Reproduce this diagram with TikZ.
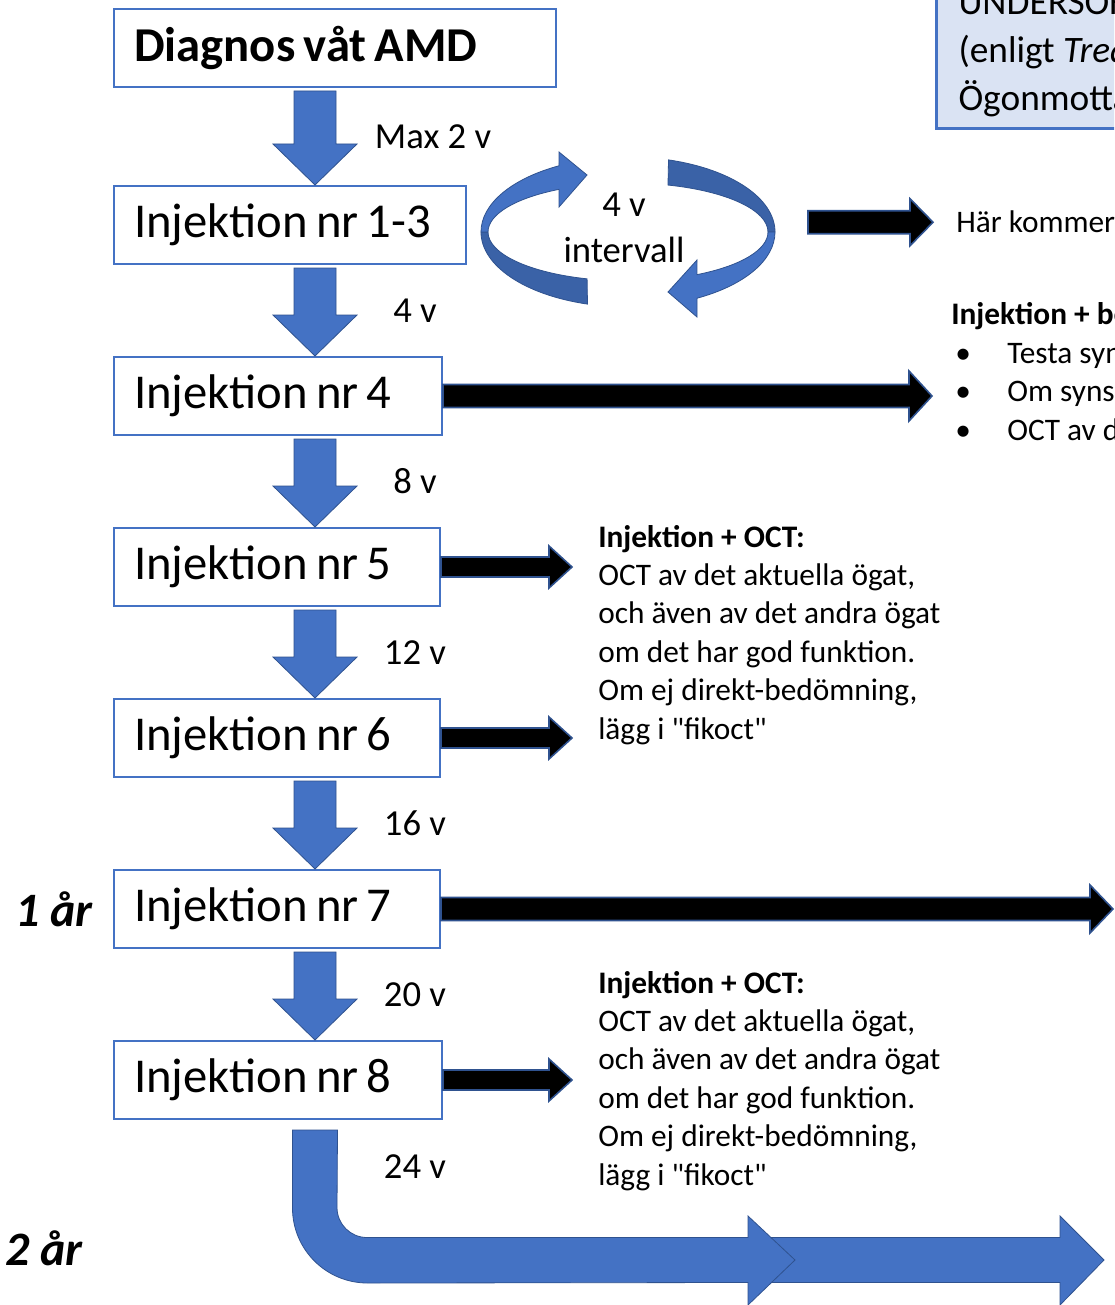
\documentclass[tikz,border=0pt]{standalone}
\usepackage{fontspec}
\setmainfont{Carlito}[Ligatures=TeXOff]
\usetikzlibrary{positioning,calc}

\definecolor{bblue}{HTML}{4472C4}
\definecolor{bedge}{HTML}{2F528F}
\definecolor{bdark}{HTML}{3A62A7}
\definecolor{infofill}{HTML}{DAE3F3}

% blue block arrow straight down between two boxes
\newcommand\downflow[2]{%
  \draw[blueflow] ($(#1.south -| ax)+(-21,3)$) -- ($(#2.north -| ax)+(-21,-41)$)
    -- ($(#2.north -| ax)+(-42,-41)$) -- (#2.north -| ax)
    -- ($(#2.north -| ax)+(42,-41)$) -- ($(#2.north -| ax)+(21,-41)$)
    -- ($(#1.south -| ax)+(21,3)$) -- cycle;}
% black block arrow to the right
\newcommand\rightflow[4]{%
  \draw[blackflow] ($(#1)+(0,-#3)$) -- ($(#2)+(-23,-#3)$) -- ($(#2)+(-23,-#4)$)
    -- (#2) -- ($(#2)+(-23,#4)$) -- ($(#2)+(-23,#3)$) -- ($(#1)+(0,#3)$) -- cycle;}
\newcommand\tightspace{\spaceskip=0.17em plus 0.05em\relax}

\begin{document}
\begin{tikzpicture}[x=0.75pt, y=-0.75pt,
  font=\fontsize{23.5}{28.8}\selectfont,
  stepbox/.style={draw=bblue, line width=1.5pt, fill=white, text width=#1,
                  align=left, inner xsep=15pt, inner ysep=0pt, minimum height=58.5pt,
                  font=\fontsize{36.5}{42}\selectfont,
                  execute at begin node=\tightspace},
  gaplabel/.style={font=\fontsize{27.5}{34}\selectfont, inner sep=0pt, align=center},
  yearlabel/.style={font=\fontsize{36}{40}\selectfont\bfseries\itshape, inner sep=0pt},
  note/.style={align=left, inner sep=0pt, anchor=base west},
  infobox/.style={draw=bblue, line width=2.25pt, fill=infofill, align=left,
                  anchor=south west, inner xsep=16.5pt, inner ysep=9pt,
                  font=\fontsize{28}{36}\selectfont},
  blueflow/.style={fill=bblue, draw=bedge, line width=0.6pt, line join=miter},
  ringdark/.style={fill=bdark, draw=bedge, line width=0.6pt, line join=miter},
  blackflow/.style={fill=black, draw=bedge, line width=1.2pt, line join=miter},
]
\useasboundingbox[fill=white] (0,0) rectangle (1114,1305);
\clip (0,0) rectangle (1114,1305);

\coordinate (ax) at (315,0);
\coordinate (lx) at (415,0);
\coordinate (mx) at (433,0);
\coordinate (cyc) at (628,232);

% ---- Boxes ------------------------------------------------------------------
\node[stepbox=301.5pt, font=\fontsize{36.5}{42}\selectfont\bfseries, anchor=north west]
  (diag) at (113,8) {Diagnos våt AMD};
\node[stepbox=234pt, below=72.75pt of diag.south west, anchor=north west] (n13) {Injektion nr 1-3};
\node[stepbox=216pt, below=68.25pt of n13.south west, anchor=north west] (n4) {Injektion nr 4};
\node[stepbox=214.5pt, below=68.25pt of n4.south west, anchor=north west] (n5) {Injektion nr 5};
\node[stepbox=214.5pt, below=68.25pt of n5.south west, anchor=north west] (n6) {Injektion nr 6};
\node[stepbox=214.5pt, below=68.25pt of n6.south west, anchor=north west] (n7) {Injektion nr 7};
\node[stepbox=216pt, below=68.25pt of n7.south west, anchor=north west] (n8) {Injektion nr 8};

\node[yearlabel, left=15pt of n7] (yr1) {1 år};
\node[yearlabel] (yr2) at (44,1248) {2 år};

% ---- Gaps ---------------------------------------------------------------------
\downflow{diag}{n13}
\downflow{n13}{n4}
\downflow{n4}{n5}
\downflow{n5}{n6}
\downflow{n6}{n7}
\downflow{n7}{n8}

\node[gaplabel] (g1) at ($(diag.south -| mx)!0.5!(n13.north -| mx)$) {Max 2 v};
\node[gaplabel] (g2) at ($(n13.south -| lx)!0.5!(n4.north -| lx)$) {4 v};
\node[gaplabel] (g3) at ($(n4.south -| lx)!0.5!(n5.north -| lx)$) {8 v};
\node[gaplabel] (g4) at ($(n5.south -| lx)!0.5!(n6.north -| lx)$) {12 v};
\node[gaplabel] (g5) at ($(n6.south -| lx)!0.5!(n7.north -| lx)$) {16 v};
\node[gaplabel] (g6) at ($(n7.south -| lx)!0.5!(n8.north -| lx)$) {20 v};
\node[gaplabel] (g7) at ($(n8.south -| lx)+(0,47)$) {24 v};

% ---- 4 v cycle ----------------------------------------------------------------
\fill[ringdark] ($(cyc)+(180:147 and 75)$) arc[start angle=180, end angle=106, x radius=147, y radius=75]
  -- ($(cyc)+(107:140 and 49)$) arc[start angle=107, end angle=180, x radius=140, y radius=49] -- cycle;
\fill[blueflow] ($(cyc)+(180:147 and 75)$) arc[start angle=180, end angle=242, x radius=147, y radius=75]
  -- ($(cyc)+(-69,-80)$) -- ($(cyc)+(-41,-57)$) -- ($(cyc)+(-69,-25)$)
  -- ($(cyc)+(240.5:140 and 49)$) arc[start angle=240.5, end angle=180, x radius=140, y radius=49] -- cycle;
\fill[ringdark] ($(cyc)+(286:147 and 75)$) arc[start angle=286, end angle=360, x radius=147, y radius=75]
  -- ($(cyc)+(0:140 and 49)$) arc[start angle=360, end angle=286.6, x radius=140, y radius=49] -- cycle;
\fill[blueflow] ($(cyc)+(0:147 and 75)$) arc[start angle=0, end angle=62, x radius=147, y radius=75]
  -- ($(cyc)+(69,85)$) -- ($(cyc)+(40,60)$) -- ($(cyc)+(69,28)$)
  -- ($(cyc)+(60.5:140 and 49)$) arc[start angle=60.5, end angle=0, x radius=140, y radius=49] -- cycle;
\node[gaplabel, font=\fontsize{27.5}{34}\selectfont] (cyctext) at ($(cyc)+(-4,-4)$) {4 v\\intervall};

% ---- Right-hand texts -----------------------------------------------------------
\node[infobox] (info) at (935,130) {UNDERSÖKNINGAR\\(enligt \textit{Treat-and-extend})\\Ögonmottagningen};
\node[note] (here) at (956,233) {Här kommer mer information};
\node[note] (list) at (951,440) {\textbf{Injektion + bedömning:}\\
  \hspace*{3pt}\makebox[39pt][l]{•}Testa synen\\
  \hspace*{3pt}\makebox[39pt][l]{•}Om synskärpan försämrats\\
  \hspace*{3pt}\makebox[39pt][l]{•}OCT av det aktuella ögat};
\node[note] (oct1) at (598,739) {\textbf{Injektion + OCT:}\\OCT av det aktuella ögat,\\och även av det andra ögat\\om det har god funktion.\\Om ej direkt-bedömning,\\lägg i "fikoct"};
\node[note] (oct2) at (598,1185) {\textbf{Injektion + OCT:}\\OCT av det aktuella ögat,\\och även av det andra ögat\\om det har god funktion.\\Om ej direkt-bedömning,\\lägg i "fikoct"};

% ---- Black arrows -------------------------------------------------------------
\coordinate (tip13) at ($(here.west)+(-23,0)$);
\coordinate (tail13) at ($(tip13)+(-125,0)$);
\coordinate (tip4) at ($(n4.east -| list.west)+(-19,0)$);
\coordinate (tip5) at ($(n5.east -| oct1.west)+(-26,0)$);
\coordinate (tip6) at ($(n6.east -| oct1.west)+(-26,0)$);
\coordinate (tip7) at ($(n7.east)+(672,0)$);
\coordinate (tip8) at ($(n8.east -| oct2.west)+(-26,0)$);
\rightflow{tail13}{tip13}{11.5}{23.5}
\rightflow{n4.east}{tip4}{11.5}{25}
\rightflow{n5.east}{tip5}{10}{21}
\rightflow{n6.east}{tip6}{10}{21}
\rightflow{n7.east}{tip7}{11.5}{24}
\rightflow{n8.east}{tip8}{10}{21}

% ---- Bent arrow after nr 8 ----------------------------------------------------
\coordinate (top8) at ($(n8.south -| ax)+(0,10)$);
\coordinate (turn) at ($(top8)+(0,130)$);
\coordinate (mid2) at ($(turn)+(433,0)$);
\coordinate (end2) at ($(mid2)+(356,0)$);
\draw[blueflow] ($(mid2)+(22,-22.5)$) -- ($(end2)+(-44,-22.5)$) -- ($(end2)+(-44,-44)$)
  -- (end2) -- ($(end2)+(-44,45)$) -- ($(end2)+(-44,22.5)$) -- ($(mid2)+(22,22.5)$) -- cycle;
\draw[blueflow] ($(top8)+(-22.5,0)$) -- ($(turn)+(-22.5,-52)$) arc[start angle=180, end angle=90, radius=75]
  -- ($(mid2)+(0,22.5)$) -- ($(mid2)+(0,45)$) -- ($(mid2)+(47,0)$) -- ($(mid2)+(0,-44)$)
  -- ($(mid2)+(0,-22.5)$) -- ($(turn)+(52,-22.5)$) arc[start angle=90, end angle=180, radius=30]
  -- ($(top8)+(22.5,0)$) -- cycle;

\end{tikzpicture}
\end{document}
